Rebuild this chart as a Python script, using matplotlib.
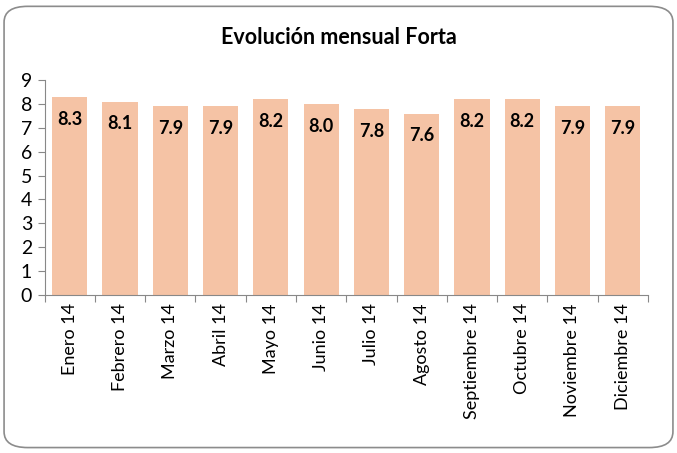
import matplotlib.pyplot as plt
from matplotlib.patches import FancyBboxPatch

months = ["Enero 14", "Febrero 14", "Marzo 14", "Abril 14", "Mayo 14", "Junio 14",
          "Julio 14", "Agosto 14", "Septiembre 14", "Octubre 14", "Noviembre 14",
          "Diciembre 14"]
values = [8.3, 8.1, 7.9, 7.9, 8.2, 8.0, 7.8, 7.6, 8.2, 8.2, 7.9, 7.9]
yticks = list(range(0, 10))

plt.rcParams["font.family"] = ["Lato", "DejaVu Sans"]

fig = plt.figure(figsize=(6.77, 4.53), dpi=100, facecolor="white")
border = FancyBboxPatch((0.006, 0.012), 0.988, 0.974,
                        boxstyle="round,pad=0,rounding_size=0.035",
                        transform=fig.transFigure, facecolor="none",
                        edgecolor="#8c8c8c", linewidth=1.2, zorder=-1)
fig.patches.append(border)

ax = fig.add_axes([0.066, 0.349, 0.891, 0.474])
ax.patch.set_alpha(0)
x = range(len(months))
bars = ax.bar(x, values, width=0.7, color="#F5C3A5", zorder=2)

for b, v in zip(bars, values):
    ax.annotate(f"{v:.1f}", (b.get_x() + b.get_width() / 2, v),
                xytext=(0, -16), textcoords="offset points",
                ha="center", va="center", fontsize=13, fontweight="bold")

ax.set_xlim(-0.5, len(months) - 0.5)
ax.set_ylim(0, 9)
ax.set_yticks(yticks)
ax.set_xticks([i - 0.5 for i in range(len(months) + 1)], minor=False)
ax.set_xticklabels([])
ax.set_xticks(list(x), minor=True)
ax.set_xticklabels(months, minor=True, rotation=90, fontsize=13)
ax.tick_params(axis="x", which="major", length=5, color="#888888")
ax.tick_params(axis="x", which="minor", length=0, pad=6)
ax.tick_params(axis="y", length=5, color="#888888", labelsize=14, pad=4)

for s in ["top", "right"]:
    ax.spines[s].set_visible(False)
for s in ["left", "bottom"]:
    ax.spines[s].set_color("#888888")

fig.text(0.5, 0.918, "Evolución mensual Forta", ha="center", va="center",
         fontsize=15.5, fontweight="bold")

fig.savefig("out.png", dpi=100)
